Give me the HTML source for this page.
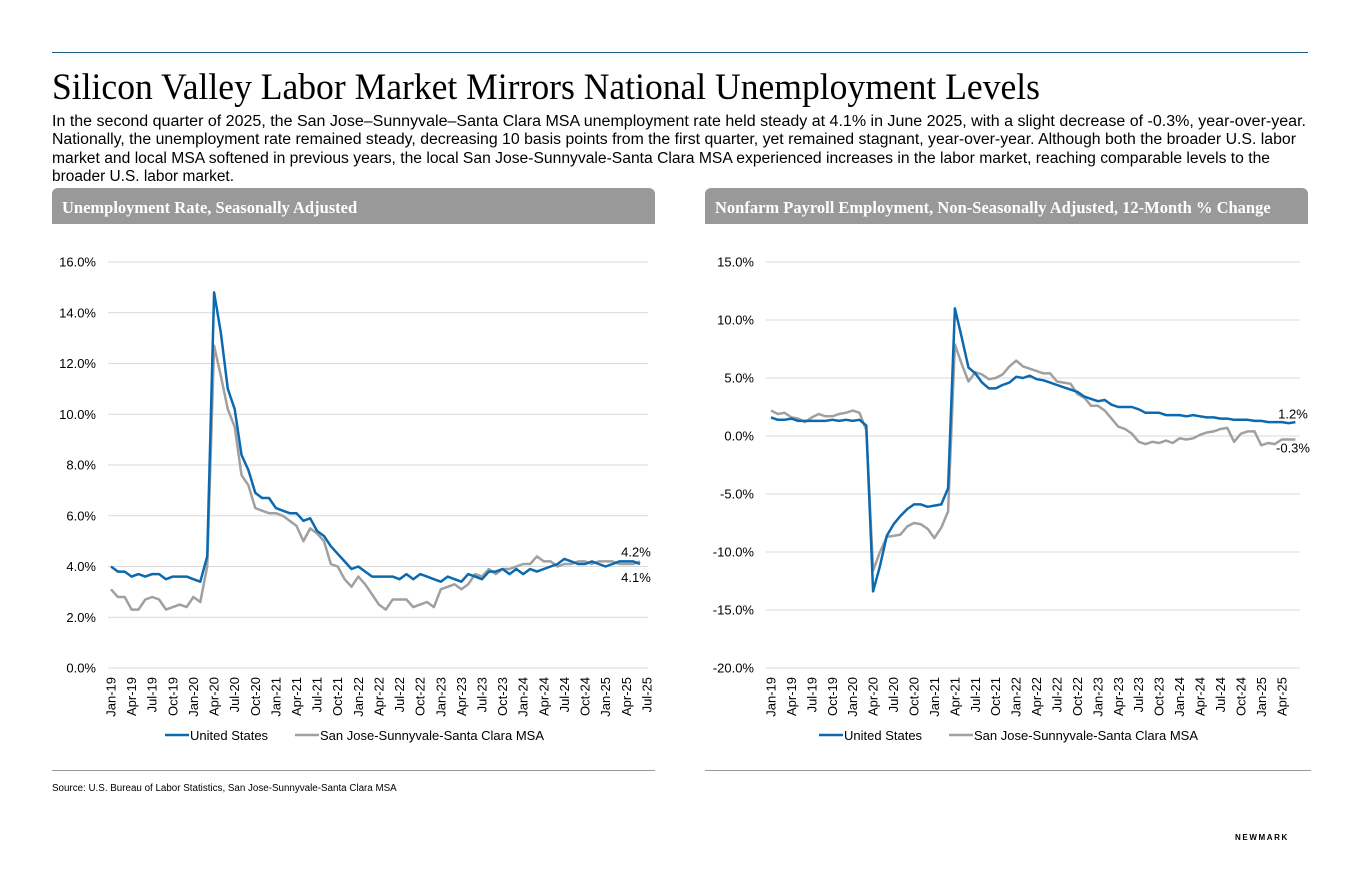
<!DOCTYPE html>
<html><head><meta charset="utf-8">
<style>
body{margin:0;width:1360px;height:880px;background:#fff;position:relative;overflow:hidden;font-family:"Liberation Sans",Arial,sans-serif;color:#000}
.abs{position:absolute}
.fit{white-space:nowrap;transform-origin:0 0;display:block;width:max-content}
.hdr{position:absolute;top:188px;height:36px;background:#999;border-radius:6px 6px 0 0;color:#fff;font-family:"Liberation Serif",serif;font-weight:bold;font-size:16.5px;line-height:40px;padding-left:10px;box-sizing:border-box}
svg text{font-family:"Liberation Sans",Arial,sans-serif}
</style></head><body>
<div class="abs" style="left:52px;top:52px;width:1256px;height:1px;background:#1e5f86"></div>
<div class="abs fit" id="title" data-w="988" style="left:52px;top:66px;font-family:'Liberation Serif',serif;font-size:37px">Silicon Valley Labor Market Mirrors National Unemployment Levels</div>
<div class="abs" style="left:52px;top:113px;font-size:15.5px;line-height:18.3px">
<span class="fit" data-w="1254">In the second quarter of 2025, the San Jose–Sunnyvale–Santa Clara MSA unemployment rate held steady at 4.1% in June 2025, with a slight decrease of -0.3%, year-over-year.</span>
<span class="fit" data-w="1244">Nationally, the unemployment rate remained steady, decreasing 10 basis points from the first quarter, yet remained stagnant, year-over-year. Although both the broader U.S. labor</span>
<span class="fit" data-w="1218">market and local MSA softened in previous years, the local San Jose-Sunnyvale-Santa Clara MSA experienced increases in the labor market, reaching comparable levels to the</span>
<span class="fit" data-w="182">broader U.S. labor market.</span>
</div>
<div class="hdr" style="left:52px;width:603px">Unemployment Rate, Seasonally Adjusted</div>
<div class="hdr" style="left:705px;width:603px">Nonfarm Payroll Employment, Non-Seasonally Adjusted, 12-Month % Change</div>
<svg class="abs" style="left:0;top:0" width="1360" height="880" id="charts"></svg>
<div class="abs" style="left:52px;top:770px;width:603px;height:1px;background:#999"></div>
<div class="abs" style="left:705px;top:770px;width:606px;height:1px;background:#999"></div>
<div class="abs" style="left:52px;top:783px;font-size:9.8px">Source: U.S. Bureau of Labor Statistics, San Jose-Sunnyvale-Santa Clara MSA</div>
<div class="abs" style="left:1235px;top:833px;font-size:8px;font-weight:bold;letter-spacing:1.6px">NEWMARK</div>
<script>
const unempUS=[4.0,3.8,3.8,3.6,3.7,3.6,3.7,3.7,3.5,3.6,3.6,3.6, 3.5,3.4,4.4,14.8,13.2,11.0,10.2,8.4,7.8,6.9,6.7,6.7, 6.3,6.2,6.1,6.1,5.8,5.9,5.4,5.2,4.8,4.5,4.2,3.9, 4.0,3.8,3.6,3.6,3.6,3.6,3.5,3.7,3.5,3.7,3.6,3.5, 3.4,3.6,3.5,3.4,3.7,3.6,3.5,3.8,3.8,3.9,3.7,3.9, 3.7,3.9,3.8,3.9,4.0,4.1,4.3,4.2,4.1,4.1,4.2,4.1, 4.0,4.1,4.2,4.2,4.2,4.1];
const unempSJ=[3.1,2.8,2.8,2.3,2.3,2.7,2.8,2.7,2.3,2.4,2.5,2.4, 2.8,2.6,4.0,12.7,11.5,10.2,9.5,7.6,7.2,6.3,6.2,6.1, 6.1,6.0,5.8,5.6,5.0,5.5,5.3,5.0,4.1,4.0,3.5,3.2, 3.6,3.3,2.9,2.5,2.3,2.7,2.7,2.7,2.4,2.5,2.6,2.4, 3.1,3.2,3.3,3.1,3.3,3.7,3.6,3.9,3.7,3.9,3.9,4.0, 4.1,4.1,4.4,4.2,4.2,4.0,4.1,4.1,4.2,4.2,4.1,4.2, 4.2,4.2,4.1,4.1,4.1,4.2];
const payUS=[1.6,1.4,1.4,1.5,1.3,1.3,1.3,1.3,1.3,1.4,1.3,1.4, 1.3,1.4,0.9,-13.4,-11.2,-8.6,-7.6,-6.9,-6.3,-5.9,-5.9,-6.1, -6.0,-5.9,-4.5,11.0,8.5,5.9,5.4,4.6,4.1,4.1,4.4,4.6, 5.1,5.0,5.2,4.9,4.8,4.6,4.4,4.2,4.0,3.8,3.4,3.2, 3.0,3.1,2.7,2.5,2.5,2.5,2.3,2.0,2.0,2.0,1.8,1.8, 1.8,1.7,1.8,1.7,1.6,1.6,1.5,1.5,1.4,1.4,1.4,1.3, 1.3,1.2,1.2,1.2,1.1,1.2];
const paySJ=[2.2,1.9,2.0,1.6,1.5,1.2,1.6,1.9,1.7,1.7,1.9,2.0, 2.2,2.0,0.5,-11.6,-10.0,-8.7,-8.6,-8.5,-7.8,-7.5,-7.6,-8.0, -8.8,-7.9,-6.5,7.9,6.2,4.7,5.5,5.3,4.9,5.0,5.3,6.0, 6.5,6.0,5.8,5.6,5.4,5.4,4.7,4.6,4.5,3.6,3.3,2.6, 2.6,2.2,1.5,0.8,0.6,0.2,-0.5,-0.7,-0.5,-0.6,-0.4,-0.6, -0.2,-0.3,-0.2,0.1,0.3,0.4,0.6,0.7,-0.5,0.2,0.4,0.4, -0.8,-0.6,-0.7,-0.3,-0.3,-0.3];
const leftYTicks=[0,2,4,6,8,10,12,14,16];
const rightYTicks=[-20,-15,-10,-5,0,5,10,15];
const yrs=['19','20','21','22','23','24','25'];
const mons=['Jan','Apr','Jul','Oct'];
const leftXLabels=[];yrs.forEach(y=>mons.forEach(m=>leftXLabels.push(m+'-'+y)));leftXLabels.splice(27);
const rightXLabels=leftXLabels.slice(0,26);
const legendNames=['United States','San Jose-Sunnyvale-Santa Clara MSA'];

const NS='http://www.w3.org/2000/svg';
const svg=document.getElementById('charts');
function mk(tag,attrs,parent){const e=document.createElementNS(NS,tag);for(const k in attrs)e.setAttribute(k,attrs[k]);(parent||svg).appendChild(e);return e;}

function chart(o){
  const g=mk('g',{});
  
  
  const y=v=>o.y0+(v-o.ymin)/(o.ymax-o.ymin)*(o.y1-o.y0);
  const x=i=>o.x0+i*o.dx;
  o.yt.forEach(t=>{
    const l=mk('line',{x1:o.gx0,x2:o.gx1,y1:y(t),y2:y(t),stroke:'#d9d9d9','stroke-width':1},g);
    
    
    const tx=mk('text',{x:o.gx0-12,y:y(t)+4.5,'text-anchor':'end','font-size':13,fill:'#000'},g);
    tx.textContent=t.toFixed(1)+'%';
    
    
  });
  o.xl.forEach((s,i)=>{
    const px=x(i*3);
    const tx=mk('text',{x:0,y:0,transform:`translate(${px+4.5},${o.xly}) rotate(-90)`,'text-anchor':'end','font-size':13,fill:'#000'},g);
    tx.textContent=s;
    
    
  });
  [[o.s2,'#a0a0a0','sj-line'],[o.s1,'#0b69b0','us-line']].forEach(([s,c,n])=>{
    const p=mk('polyline',{points:s.map((v,i)=>x(i).toFixed(1)+','+y(v).toFixed(1)).join(' '),fill:'none',stroke:c,'stroke-width':2.5,'stroke-linejoin':'round'},g);
    
    
  });
  o.labels.forEach(([txt,v,dy])=>{
    const tx=mk('text',{x:o.lx,y:y(v)+dy,'text-anchor':'middle','font-size':13,fill:'#000'},g);
    tx.textContent=txt;
    
    
  });
  const lg=mk('g',{},g);
  
  
  [[o.legx,'#0b69b0',legendNames[0]],[o.legx+130,'#a0a0a0',legendNames[1]]].forEach(([lx,c,n])=>{
    mk('line',{x1:lx,x2:lx+24,y1:735,y2:735,stroke:c,'stroke-width':2.5},lg);
    const t=mk('text',{x:lx+25,y:740,'font-size':13,fill:'#000'},lg);
    t.textContent=n;
    
    
  });
}
chart({name:'unemployment-chart',ymin:0,ymax:16,y0:668,y1:262,x0:111,dx:6.87,gx0:108,gx1:648,yt:leftYTicks,xl:leftXLabels,xly:677,s1:unempUS,s2:unempSJ,
  labels:[['4.2%',4.4,0],['4.1%',3.5,3]],lx:636,legx:165});
chart({name:'payroll-chart',ymin:-20,ymax:15,y0:668,y1:262,x0:771,dx:6.81,gx0:766,gx1:1300,yt:rightYTicks,xl:rightXLabels,xly:677,s1:payUS,s2:paySJ,
  labels:[['1.2%',1.6,1],['-0.3%',-1.0,5]],lx:1293,legx:819});

document.querySelectorAll('.fit').forEach(e=>{
  const w=e.getBoundingClientRect().width;const t=+e.dataset.w;
  if(w>0)e.style.transform=`scaleX(${t/w})`;
});
</script>
</body></html>
